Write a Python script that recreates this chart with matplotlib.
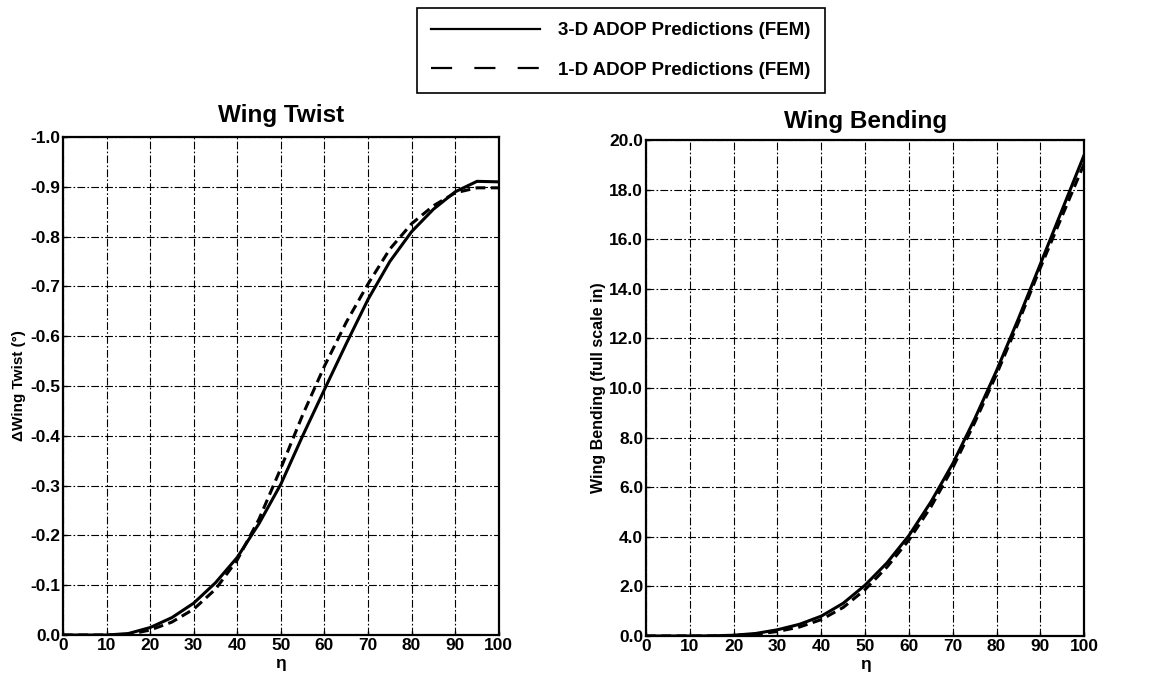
import numpy as np
import matplotlib
matplotlib.use("Agg")
import matplotlib.pyplot as plt
from matplotlib.lines import Line2D

# Spanwise station (percent semi-span)
eta = [0, 5, 10, 15, 20, 25, 30, 35, 40, 45, 50, 55, 60, 65, 70, 75, 80, 85, 90, 95, 100]

# Wing twist increment (deg)
twist_3d = [0.0, 0.0, 0.0, -0.003, -0.015, -0.035, -0.064, -0.105, -0.156, -0.224, -0.303,
            -0.400, -0.493, -0.585, -0.674, -0.750, -0.810, -0.855, -0.890, -0.911, -0.910]
twist_1d = [0.0, 0.0, 0.0, -0.001, -0.010, -0.026, -0.052, -0.092, -0.151, -0.233, -0.335,
            -0.442, -0.540, -0.628, -0.705, -0.775, -0.826, -0.862, -0.888, -0.898, -0.898]

# Wing bending (full scale in)
bend_3d = [0.0, 0.0, 0.0, 0.005, 0.03, 0.10, 0.25, 0.47, 0.80, 1.32, 2.05, 2.95, 4.05,
           5.40, 6.95, 8.75, 10.70, 12.80, 15.00, 17.20, 19.40]
bend_1d = [0.0, 0.0, 0.0, 0.002, 0.02, 0.07, 0.18, 0.36, 0.66, 1.15, 1.87, 2.78, 3.87,
           5.20, 6.78, 8.60, 10.55, 12.65, 14.85, 16.95, 19.05]

x_ticks = np.arange(0, 101, 10)
twist_ticks = np.round(np.arange(0.0, -1.01, -0.1), 1)
bend_ticks = np.arange(0.0, 20.1, 2.0)

FONT = "Liberation Sans"
plt.rcParams.update({
    "font.family": FONT,
    "font.weight": "bold",
    "axes.linewidth": 1.6,
})

fig = plt.figure(figsize=(11.53, 6.77), dpi=100)
ax1 = fig.add_axes([0.0546, 0.062, 0.378, 0.7356])
ax2 = fig.add_axes([0.5603, 0.0606, 0.380, 0.7325])


def _style(ax, yticks, ylabels):
    ax.set_xlim(0, 100)
    ax.set_xticks(x_ticks)
    ax.set_yticks(yticks)
    ax.set_yticklabels(ylabels)
    ax.tick_params(labelsize=12.5, length=3, width=1, direction="in", pad=2)
    for lab in ax.get_xticklabels() + ax.get_yticklabels():
        lab.set_fontweight("bold")
    ax.grid(True, color="black", linewidth=0.8, dashes=(7, 2, 1.5, 2))
    ax.set_axisbelow(True)
    ax.set_xlabel("\u03b7", fontsize=12.5, fontweight="bold", labelpad=2)


# Wing twist
ax1.plot(eta, twist_3d, color="black", linewidth=2.2, zorder=3)
ax1.plot(eta, twist_1d, color="black", linewidth=2.2, dashes=(3.2, 1.8), zorder=3)
ax1.set_ylim(0.0, -1.0)
_style(ax1, twist_ticks, ["0.0" if v == 0 else "{:.1f}".format(v) for v in twist_ticks])
ax1.set_ylabel("\u0394Wing Twist (\u00b0)", fontsize=11, fontweight="bold", labelpad=3)
ax1.set_title("Wing Twist", fontsize=17.5, fontweight="bold", pad=11)

# Wing bending
ax2.plot(eta, bend_3d, color="black", linewidth=2.2, zorder=3)
ax2.plot(eta, bend_1d, color="black", linewidth=2.2, dashes=(3.2, 1.8), zorder=3)
ax2.set_ylim(0.0, 20.0)
_style(ax2, bend_ticks, ["{:.1f}".format(v) for v in bend_ticks])
ax2.set_ylabel("Wing Bending (full scale in)", fontsize=11.5, fontweight="bold", labelpad=2)
ax2.set_title("Wing Bending", fontsize=17.5, fontweight="bold", pad=9)

handles = [
    Line2D([], [], color="black", linewidth=1.6),
    Line2D([], [], color="black", linewidth=1.6, dashes=(9.5, 10)),
]
labels = ["3-D ADOP Predictions (FEM)", "1-D ADOP Predictions (FEM)"]
leg = fig.legend(handles, labels, loc="upper center", bbox_to_anchor=(0.5385, 0.988),
                 frameon=True, fancybox=False, edgecolor="black", framealpha=1,
                 fontsize=13.5, handlelength=5.8, handletextpad=1.0, labelspacing=1.2,
                 borderpad=0.75, borderaxespad=0)
leg.get_frame().set_linewidth(1.2)

fig.savefig("out.png", dpi=100)
